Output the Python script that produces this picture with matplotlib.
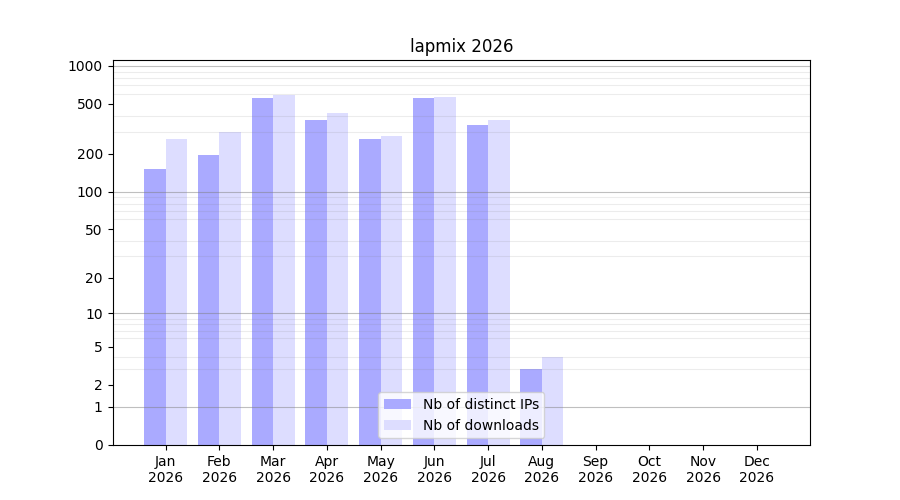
import numpy as np
import matplotlib
matplotlib.use("Agg")
import matplotlib.pyplot as plt

# ---------- data ----------
months = ["Jan", "Feb", "Mar", "Apr", "May", "Jun",
          "Jul", "Aug", "Sep", "Oct", "Nov", "Dec"]
year = "2026"
distinct_ips = [151, 196, 557, 372, 263, 557, 340, 3, 0, 0, 0, 0]
downloads = [263, 300, 588, 423, 277, 567, 372, 4, 0, 0, 0, 0]
ytick_values = [0, 1, 2, 5, 10, 20, 50, 100, 200, 500, 1000]


def fwd(v):
    return np.log10(np.asarray(v, dtype=float) + 1)


def inv(v):
    return 10 ** np.asarray(v, dtype=float) - 1


fig, ax = plt.subplots(figsize=(9, 5), dpi=100)
x = np.arange(len(months))
w = 0.4

ax.bar(x - w / 2, distinct_ips, w, color="#aaaaff", label="Nb of distinct IPs")
ax.bar(x + w / 2, downloads, w, color="#ddddff", label="Nb of downloads")

ax.set_yscale("function", functions=(fwd, inv))

# minor grid at 2..9 x decade, major grid at decades
minor = [m * 10 ** d for d in range(0, 3) for m in range(2, 10)]
ax.set_yticks(minor, minor=True)
ax.tick_params(axis="y", which="minor", length=0)
ax.set_yticks(ytick_values)
ax.set_yticklabels([str(v) for v in ytick_values])
ax.grid(axis="y", which="minor", color="gray", alpha=0.15, linewidth=0.8)
for d in [1, 10, 100, 1000]:
    ax.axhline(d, color="gray", alpha=0.5, linewidth=0.8, zorder=1.5)
ax.set_ylim(0, 1110)

ax.set_xticks(x)
ax.set_xticklabels([m + "\n" + year for m in months])

ax.set_title("lapmix 2026")
ax.legend(loc="lower center")

plt.savefig("out.png", dpi=100)
